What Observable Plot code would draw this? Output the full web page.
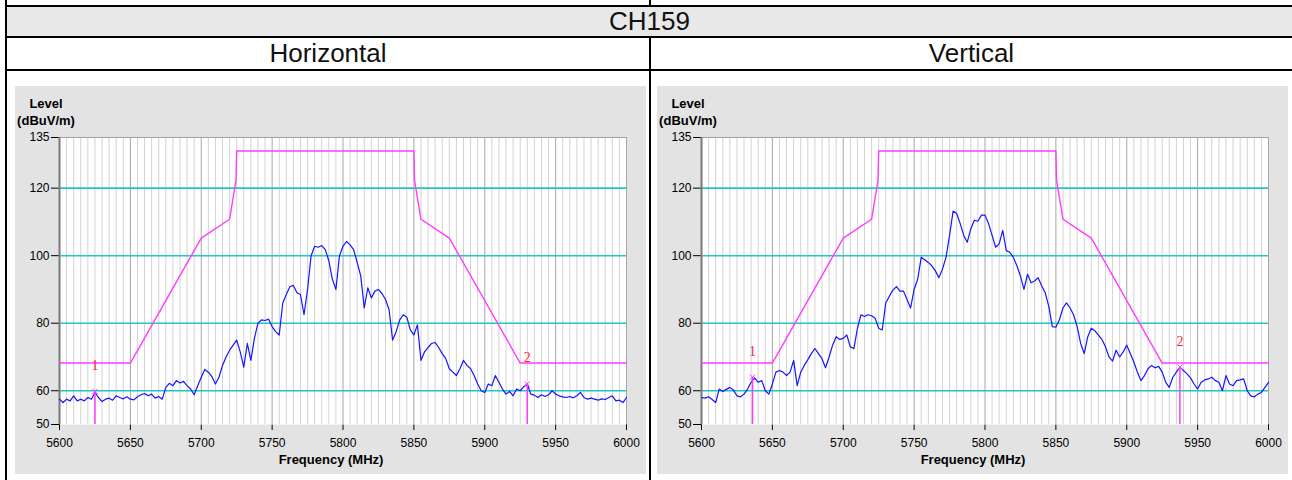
<!DOCTYPE html>
<html>
<head>
<meta charset="utf-8">
<script src="https://cdn.jsdelivr.net/npm/d3@7"></script>
<script src="https://cdn.jsdelivr.net/npm/@observablehq/plot@0.6"></script>
<style>
  html, body { margin: 0; padding: 0; background: #fff; }
  body { width: 1292px; height: 480px; position: relative; overflow: hidden; font-family: "Liberation Sans", Arial, sans-serif; }
  .abs { position: absolute; }
  .line { position: absolute; background: #000; }
  .band { position: absolute; display: flex; align-items: center; justify-content: center; font-size: 26px; color: #111; }
  .panel { position: absolute; top: 86px; width: 631px; height: 388px; }
  .lbl { position: absolute; font-weight: bold; font-size: 13px; line-height: 13px; white-space: nowrap; transform: translateX(-50%); color: #000; }
</style>
</head>
<body>
<!-- table structure -->
<div class="band" style="left:7px; top:7px; width:1285px; height:29px; background:#e8e8e8;" id="title"></div>
<div class="band" style="left:7px; top:38px; width:642px; height:31px;" id="polH"></div>
<div class="band" style="left:651px; top:38px; width:641px; height:31px;" id="polV"></div>
<div class="line" style="left:5px; top:5px; width:1287px; height:2px;"></div>
<div class="line" style="left:5px; top:36px; width:1287px; height:2px;"></div>
<div class="line" style="left:5px; top:69px; width:1287px; height:2px;"></div>
<div class="line" style="left:5px; top:0px; width:2px; height:480px;"></div>
<div class="line" style="left:649px; top:0px; width:2px; height:6px;"></div>
<div class="line" style="left:649px; top:37px; width:2px; height:443px;"></div>

<div class="panel" id="panelH" style="left:15px;"></div>
<div class="panel" id="panelV" style="left:657px;"></div>

<script>
// ---------------- data ----------------
const title = "CH159";
const polarizations = ["Horizontal", "Vertical"];
const yAxisTitle = ["Level", "(dBuV/m)"];
const xAxisTitle = "Frequency (MHz)";

const xTicks = [5600, 5650, 5700, 5750, 5800, 5850, 5900, 5950, 6000];
const yTicks = [50, 60, 80, 100, 120, 135];
const cyanLevels = [60, 80, 100, 120];

// sweep: 5600 .. 6000 MHz, 2.5 MHz per sample
const sweepStart = 5600;
const sweepStep = 2.5;

// limit mask
const limitFreq  = [5600, 5650, 5700, 5720, 5724.5, 5725, 5850, 5850.5, 5855, 5875, 5925, 6000];
const limitLevel = [68.2, 68.2, 105.2, 110.8, 122.2, 131, 131, 122.2, 110.8, 105.2, 68.2, 68.2];

// measured trace, horizontal polarization (dBuV/m)
const levelH = [
  57.5, 56.5, 57.5, 57, 58.5, 57, 57.5, 57,
  58, 57.5, 59.5, 58, 56.8, 57.5, 57.8, 57.2,
  58.5, 58, 57.6, 58.2, 57.5, 57.3, 58.2, 58.8,
  59.2, 58.5, 59, 57.8, 58.3, 57.5, 61, 62.2,
  61.5, 63, 62.3, 62.8, 61.5, 60.5, 58.8, 61.5,
  64, 66.3, 65.5, 64.2, 62, 64, 67.5, 70,
  72, 73.5, 75, 71.5, 67, 74, 69, 75.5,
  80, 81, 80.8, 81.2, 79, 77.5, 76.5, 86,
  88.5, 90.8, 91.2, 89, 88.5, 82.5, 90, 100,
  102.8, 102.5, 103, 101.8, 98.5, 93, 90, 100,
  102.8, 104.2, 103.2, 101.8, 98, 94, 84.5, 90.5,
  87.5, 89.5, 90, 88.8, 87, 84, 75, 77.5,
  81, 82.5, 81.8, 78, 76.5, 79.5, 69, 71.5,
  72.8, 74, 74.3, 72.8, 71, 69.5, 66.5, 65.5,
  64.5, 66.5, 69, 67.5, 66.5, 64.5, 62, 60,
  59.5, 62, 61.5, 64.5, 62.5, 60.5, 59, 59.8,
  58.5, 60.5, 60, 61.2, 62, 59, 58.7, 58,
  58.8, 58.3, 58.8, 60, 59, 58.5, 58.2, 58,
  58.3, 57.9, 58.5, 59.5, 58, 57.5, 57.8, 57.5,
  57.2, 57.6, 57.4, 58, 58.5, 57, 57.2, 56.5,
  58
];

// measured trace, vertical polarization (dBuV/m)
const levelV = [
  58, 57.8, 58.2, 57.4, 56.5, 60.5, 59.8, 60.4,
  61, 60.2, 58.5, 58.2, 59, 60.5, 62.5, 63.8,
  62.5, 63, 60, 59, 62, 65.5, 66, 65.5,
  64.5, 65.5, 69, 61.5, 65.5, 67.5, 69.2, 71,
  72.5, 71, 69.5, 66.8, 70, 73.5, 76, 75.2,
  75.5, 76.5, 73, 72.5, 78.5, 82.5, 82, 82.5,
  82.2, 81.5, 78.5, 78, 86, 88, 89.8, 90.8,
  89.5, 89.5, 87, 84.5, 90, 93, 99.5, 98.8,
  98, 97, 95.5, 93.5, 96, 99.5, 106, 113.2,
  112.5, 109.5, 106, 104, 108, 110.5, 110.2, 112,
  112, 109.5, 106, 102.5, 103.5, 107.5, 101.5, 101,
  99.5, 97, 94, 90, 94.5, 92, 92.5, 93.5,
  91, 89, 85, 79, 78.8, 81, 84.5, 86,
  84.5, 82.5, 79, 74, 71, 76, 78.5, 77.8,
  76.5, 75.2, 73, 70, 68.8, 72, 70, 71.5,
  73.5, 71, 68.5, 65.5, 63, 64.5, 66.5, 67.5,
  66.8, 67.2, 65.5, 62.5, 61, 64, 65.5, 67,
  66, 65, 63.8, 62, 60.5, 62.5, 63.2, 63.5,
  64, 63, 62.5, 60, 64.5, 62, 61.5, 63,
  63.2, 63.5, 60, 58.5, 58.2, 59, 59.5, 61,
  62.5
];

// markers
const markerIds = ["1", "2"];
const markerFreqH = [5625, 5930];
const markerLevelH = [59.8, 62];
const markerFreqV = [5636, 5937.5];
const markerLevelV = [64, 67];

// ---------------- drawing ----------------
document.getElementById("title").textContent = title;
document.getElementById("polH").textContent = polarizations[0];
document.getElementById("polV").textContent = polarizations[1];

const MAGENTA = "#ff3cff";

function chart(levels, mFreq, mLevel) {
  const trace = levels.map((v, i) => ({f: sweepStart + i * sweepStep, v}));
  const limit = limitFreq.map((f, i) => ({f, v: limitLevel[i]}));
  const markers = markerIds.map((id, i) => ({id, f: mFreq[i], v: mLevel[i]}));
  const minor = d3.range(5605, 6000, 5).filter(d => d % 50 !== 0);
  return Plot.plot({
    width: 631,
    height: 388,
    marginLeft: 44,
    marginRight: 20,
    marginTop: 51,
    marginBottom: 50,
    style: {background: "#e3e3e3", fontFamily: "'Liberation Sans', Arial, sans-serif", fontSize: "12px", color: "#000", overflow: "visible"},
    x: {domain: [5600, 6000], ticks: xTicks, tickFormat: d3.format("d"), tickSize: 6, tickPadding: 8, label: null},
    y: {domain: [50, 135], ticks: yTicks, tickSize: 8, tickPadding: 2, label: null},
    marks: [
      Plot.frame({fill: "white", stroke: "none"}),
      Plot.ruleX(minor, {stroke: "#d2d2d2", strokeWidth: 1}),
      Plot.ruleX(xTicks, {stroke: "#a6a6a6", strokeWidth: 1}),
      Plot.ruleY(cyanLevels, {stroke: "#22c6c6", strokeWidth: 1.6}),
      Plot.ruleY([135], {stroke: "#a0a0a0", strokeWidth: 1}),
      Plot.ruleX([5600], {stroke: "#7a7a7a", strokeWidth: 2}),
      Plot.line(limit, {x: "f", y: "v", stroke: MAGENTA, strokeWidth: 1.4}),
      Plot.line(trace, {x: "f", y: "v", stroke: "#1515ff", strokeWidth: 1.2}),
      Plot.ruleX(markers, {x: "f", y1: 50, y2: "v", stroke: MAGENTA, strokeWidth: 1.5}),
      Plot.dot(markers, {x: "f", y: "v", symbol: "times", r: 2.5, stroke: MAGENTA, strokeWidth: 1}),
      Plot.text(markers, {x: "f", y: "v", text: "id", dy: -26, fill: "#ff2a2a", fontFamily: "'Liberation Serif', 'Times New Roman', serif", fontSize: 14})
    ]
  });
}

function addTitles(panel) {
  const mk = (txt, left, top) => {
    const d = document.createElement("div");
    d.className = "lbl";
    d.style.left = left + "px";
    d.style.top = top + "px";
    d.textContent = txt;
    panel.appendChild(d);
  };
  mk(yAxisTitle[0], 31, 10.5);
  mk(yAxisTitle[1], 31, 27.5);
  mk(xAxisTitle, 316, 367);
}

const pH = document.getElementById("panelH");
const pV = document.getElementById("panelV");
pH.appendChild(chart(levelH, markerFreqH, markerLevelH));
pV.appendChild(chart(levelV, markerFreqV, markerLevelV));
addTitles(pH);
addTitles(pV);
</script>
</body>
</html>
